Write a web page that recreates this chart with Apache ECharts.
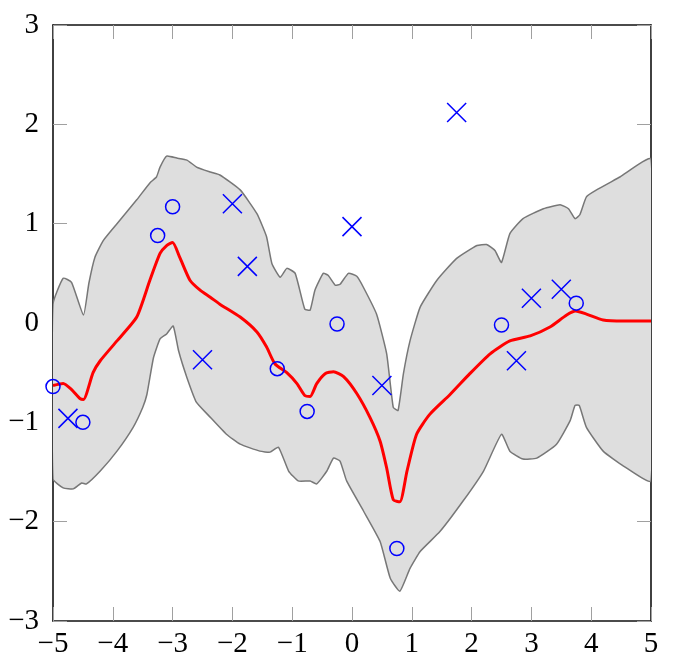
<!DOCTYPE html>
<html>
<head>
<meta charset="utf-8">
<script src="https://cdn.jsdelivr.net/npm/echarts@6/dist/echarts.min.js"></script>
<style>
  html, body { margin: 0; padding: 0; background: #fff; }
  #chart { width: 673px; height: 670px; }
</style>
</head>
<body>
<div id="chart"></div>
<script>
// posterior mean (red line)
var meanCurve = [[-5,-0.63],[-4.83,-0.61],[-4.69,-0.67],[-4.55,-0.76],[-4.49,-0.77],[-4.33,-0.5],[-4.21,-0.38],
  [-3.93,-0.18],[-3.6,0.06],[-3.38,0.43],[-3.21,0.7],[-3.1,0.78],[-3.0,0.81],[-2.88,0.66],[-2.71,0.43],
  [-2.54,0.33],[-2.37,0.26],[-2.21,0.19],[-1.87,0.06],[-1.59,-0.09],[-1.43,-0.24],[-1.29,-0.41],[-1.09,-0.5],
  [-0.92,-0.61],[-0.79,-0.73],[-0.7,-0.74],[-0.59,-0.61],[-0.45,-0.51],[-0.31,-0.49],[-0.14,-0.54],[0.08,-0.71],
  [0.3,-0.95],[0.47,-1.19],[0.58,-1.46],[0.69,-1.78],[0.8,-1.8],[0.92,-1.49],[1.08,-1.12],[1.3,-0.92],
  [1.64,-0.72],[1.97,-0.51],[2.31,-0.31],[2.64,-0.18],[2.98,-0.13],[3.31,-0.04],[3.59,0.08],[3.74,0.12],
  [3.92,0.09],[4.2,0.03],[4.54,0.02],[5,0.02]];

// confidence band, upper edge
var upperCurve = [[-5,0.19],[-4.83,0.45],[-4.69,0.41],[-4.49,0.08],[-4.4,0.4],[-4.3,0.66],[-4.16,0.83],[-3.93,1.0],
  [-3.6,1.24],[-3.38,1.41],[-3.27,1.47],[-3.21,1.57],[-3.1,1.68],[-2.93,1.66],[-2.76,1.64],[-2.6,1.57],
  [-2.37,1.52],[-2.21,1.49],[-1.87,1.34],[-1.59,1.1],[-1.43,0.87],[-1.34,0.6],[-1.2,0.46],[-1.09,0.55],
  [-0.95,0.5],[-0.79,0.14],[-0.7,0.13],[-0.62,0.33],[-0.48,0.5],[-0.4,0.48],[-0.28,0.38],[-0.2,0.39],
  [-0.06,0.5],[0.08,0.47],[0.19,0.36],[0.41,0.09],[0.58,-0.31],[0.69,-0.85],[0.77,-0.88],[0.86,-0.51],
  [0.97,-0.18],[1.14,0.16],[1.42,0.43],[1.75,0.65],[2.09,0.78],[2.25,0.79],[2.39,0.73],[2.5,0.61],
  [2.64,0.9],[2.86,1.05],[3.2,1.15],[3.48,1.19],[3.62,1.15],[3.73,1.05],[3.81,1.09],[3.92,1.27],
  [4.09,1.34],[4.48,1.47],[5,1.65]];

// confidence band, lower edge
var lowerCurve = [[-5,-1.57],[-4.83,-1.66],[-4.66,-1.67],[-4.52,-1.61],[-4.44,-1.62],[-4.21,-1.49],
  [-3.93,-1.29],[-3.66,-1.05],[-3.5,-0.85],[-3.43,-0.72],[-3.32,-0.35],[-3.21,-0.16],[-3.1,-0.11],[-2.99,-0.03],
  [-2.9,-0.28],[-2.76,-0.55],[-2.6,-0.8],[-2.4,-0.93],[-2.1,-1.12],[-1.87,-1.22],[-1.54,-1.29],
  [-1.37,-1.3],[-1.23,-1.25],[-1.06,-1.49],[-0.9,-1.59],[-0.7,-1.59],[-0.59,-1.62],[-0.42,-1.49],
  [-0.31,-1.36],[-0.2,-1.39],[-0.09,-1.59],[0.19,-1.89],[0.47,-2.2],[0.64,-2.57],[0.8,-2.7],
  [0.97,-2.47],[1.14,-2.3],[1.47,-2.1],[1.86,-1.79],[2.2,-1.49],[2.5,-1.12],[2.64,-1.29],[2.86,-1.37],
  [3.09,-1.36],[3.42,-1.22],[3.65,-0.98],[3.73,-0.83],[3.8,-0.83],[3.92,-1.05],[4.2,-1.29],
  [4.54,-1.44],[5,-1.59]];

// observations
var circles = [[-5,-0.64],[-4.5,-1.0],[-3.25,0.88],[-3.0,1.17],[-1.25,-0.46],[-0.75,-0.89],
  [-0.25,-0.01],[0.75,-2.27],[2.5,-0.02],[3.75,0.2]];
var crosses = [[-4.75,-0.96],[-2.5,-0.37],[-2.0,1.2],[-1.75,0.57],[0.0,0.97],[0.5,-0.63],
  [1.75,2.12],[2.75,-0.38],[3.0,0.25],[3.5,0.34]];

var xTicks = [-5, 5, 1];
var yTicks = [-3, 3, 1];

var myChart = echarts.init(document.getElementById('chart'));

function fmt(v){
  return v < 0 ? '\u2212' + (-v) : '' + v;
}

var labelFont = { fontFamily: 'Liberation Serif', fontSize: 29, color: '#000' };
var tickStyle = { show: true, inside: true, length: 14, lineStyle: { color: '#a0a0a0', width: 1 } };
var frameLine = { show: true, onZero: false, lineStyle: { color: '#111', width: 1.6 } };

function xAxisDef(pos, labels){
  return {
    type: 'value', position: pos, min: xTicks[0], max: xTicks[1], interval: xTicks[2],
    axisLine: frameLine, axisTick: tickStyle, splitLine: { show: false },
    axisLabel: labels ? Object.assign({ margin: 9, formatter: fmt }, labelFont) : { show: false }
  };
}
function yAxisDef(pos, labels){
  return {
    type: 'value', position: pos, min: yTicks[0], max: yTicks[1], interval: yTicks[2],
    axisLine: frameLine, axisTick: tickStyle, splitLine: { show: false },
    axisLabel: labels ? Object.assign({ margin: 14, formatter: fmt }, labelFont) : { show: false }
  };
}

var option = {
  animation: false,
  backgroundColor: '#fff',
  grid: { left: 53, right: 22, top: 25, bottom: 49 },
  xAxis: [xAxisDef('bottom', true), xAxisDef('top', false)],
  yAxis: [yAxisDef('left', true), yAxisDef('right', false)],
  series: [
    {
      // shaded band between lower and upper edges
      type: 'custom',
      z: 1,
      clip: true,
      data: [[0, 0]],
      renderItem: function(params, api){
        var pts = upperCurve.map(function(p){ return api.coord(p); });
        var low = lowerCurve.slice().reverse().map(function(p){ return api.coord(p); });
        return {
          type: 'polygon',
          shape: { points: pts.concat(low), smooth: 0.15 },
          style: { fill: '#dedede', stroke: '#777', lineWidth: 1.5 }
        };
      }
    },
    {
      type: 'line',
      z: 2,
      data: meanCurve,
      showSymbol: false,
      smooth: 0.2,
      lineStyle: { color: '#ff0000', width: 3 }
    },
    {
      type: 'scatter',
      z: 3,
      data: circles,
      symbol: 'circle',
      symbolSize: 14,
      itemStyle: { color: 'rgba(0,0,0,0)', borderColor: '#0000ff', borderWidth: 1.5, opacity: 1 }
    },
    {
      type: 'scatter',
      z: 3,
      data: crosses,
      symbol: 'path://M0,0L10,10M10,0L0,10',
      symbolSize: 19,
      itemStyle: { color: 'none', borderColor: '#0000ff', borderWidth: 1.5, opacity: 1 }
    }
  ]
};

myChart.setOption(option);
</script>
</body>
</html>
